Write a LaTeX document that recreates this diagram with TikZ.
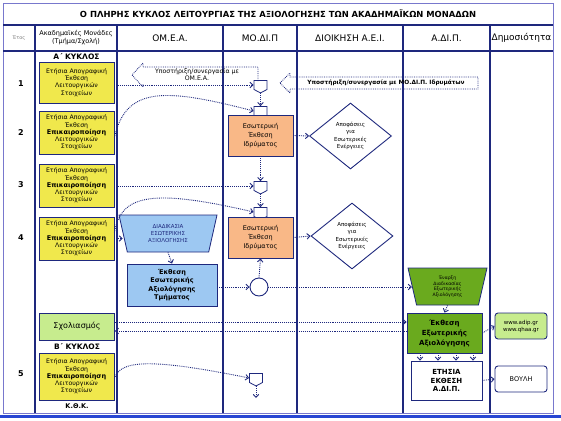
\documentclass[tikz,border=0pt]{standalone}
\usepackage{fontspec}
\setmainfont{DejaVu Sans}
\usepackage{tikz}
\usetikzlibrary{shapes.geometric,shapes.symbols,arrows.meta,positioning,calc}
\usepackage{xcolor}
\definecolor{adipnavy}{RGB}{30,40,125}
\definecolor{adipframe}{RGB}{120,120,205}
\definecolor{adipbottom}{RGB}{40,70,210}
\definecolor{adipyellow}{RGB}{240,232,76}
\definecolor{adiporange}{RGB}{249,184,135}
\definecolor{adipblue}{RGB}{157,200,242}
\definecolor{adipgreen}{RGB}{106,170,30}
\definecolor{adiplight}{RGB}{199,236,142}
\newcommand{\sizept}[2]{\fontsize{#1pt}{#2pt}\selectfont}
\newcommand{\updtext}{{\sizept{6.5}{7.2}\bfseries Επικαιροποίηση}}
\tikzset{
    lane/.style={draw=adipnavy, line width=1.2pt},
    header/.style={font=\sizept{9}{10}, text=black},
    rownum/.style={font=\sizept{8}{9}\bfseries},
    cycle/.style={font=\sizept{7.5}{9}\bfseries},
    acadbox/.style={rectangle, draw=adipnavy, fill=adipyellow, line width=0.8pt, minimum width=75pt, minimum height=43pt, inner sep=0pt, align=center, font=\sizept{6.2}{7.2}},
    instbox/.style={rectangle, draw=adipnavy, fill=adiporange, line width=0.8pt, minimum width=65pt, minimum height=41pt, inner sep=0pt, align=center, font=\sizept{6.5}{9}},
    offpage/.style={signal, signal to=south, signal pointer angle=124, draw=adipnavy, fill=white, line width=0.8pt, minimum width=13pt, minimum height=9pt, inner sep=0pt},
    decision/.style={diamond, draw=adipnavy, fill=white, line width=0.9pt, minimum width=82pt, minimum height=66pt, inner sep=0pt, align=center, font=\sizept{5.5}{7.5}},
    trapbox/.style={trapezium, shape border rotate=180, trapezium stretches body, draw=adipnavy, line width=0.8pt, inner sep=0pt, align=center},
    pubbox/.style={rectangle, rounded corners=3pt, draw=adipnavy, line width=0.9pt, minimum width=52pt, minimum height=26pt, inner sep=0pt, align=center},
    flow/.style={adipnavy, densely dotted, line width=0.9pt, -{Straight Barb[length=3pt,width=5.5pt]}},
    bigarrow/.style={adipnavy, densely dotted, line width=0.8pt},
}

\begin{document}
\begin{tikzpicture}[x=1pt,y=-1pt]
    \useasboundingbox (0,0) rectangle (561,420);

    % Table frame and lanes
    \draw[adipframe, line width=0.8pt] (3,3) rectangle (553,413);
    \draw[lane] (3,25) -- (553,25);
    \draw[lane] (3,51) -- (553,51);
    \foreach \x in {35,117,223,297,403,490} {
        \draw[lane] (\x,25) -- (\x,413);
    }
    \draw[adipbottom, line width=3pt] (0,416.5) -- (561,416.5);

    % Title and headers
    \node[font=\sizept{8.4}{10}\bfseries] (title) at (278,14) {Ο ΠΛΗΡΗΣ ΚΥΚΛΟΣ ΛΕΙΤΟΥΡΓΙΑΣ ΤΗΣ ΑΞΙΟΛΟΓΗΣΗΣ ΤΩΝ ΑΚΑΔΗΜΑΪΚΩΝ ΜΟΝΑΔΩΝ};
    \node[font=\sizept{5}{6}, text=gray] (hYear) at (19,38) {Έτος};
    \node[header, font=\sizept{6.5}{8}, align=center] (hUnits) at (76,38) {Ακαδημαϊκές Μονάδες\\(Τμήμα/Σχολή)};
    \node[header] (hOmea) at (170,38) {ΟΜ.Ε.Α.};
    \node[header] (hModip) at (260,38) {ΜΟ.ΔΙ.Π};
    \node[header] (hAdmin) at (350,38) {ΔΙΟΙΚΗΣΗ Α.Ε.Ι.};
    \node[header] (hAdip) at (446.5,38) {Α.ΔΙ.Π.};
    \node[header] (hPublic) at (521.5,38) {Δημοσιότητα};

    % Years
    \foreach \n/\y in {1/84,2/133,3/185,4/238,5/374} {
        \node[rownum] (year\n) at (21,\y) {\n};
    }

    % Academic units
    \node[cycle] (cycleA) at (76.5,57) {Α΄ ΚΥΚΛΟΣ};
    \node[acadbox, minimum height=41pt] (acad1) at (76.5,82.5) {Ετήσια Απογραφική\\Έκθεση\\Λειτουργικών\\Στοιχείων};
    \node[acadbox] (acad2) at (76.5,132.5) {Ετήσια Απογραφική\\Έκθεση\\\updtext\\Λειτουργικών\\Στοιχείων};
    \node[acadbox] (acad3) at (76.5,185.5) {Ετήσια Απογραφική\\Έκθεση\\\updtext\\Λειτουργικών\\Στοιχείων};
    \node[acadbox] (acad4) at (76.5,238.5) {Ετήσια Απογραφική\\Έκθεση\\\updtext\\Λειτουργικών\\Στοιχείων};
    \node[acadbox, fill=adiplight, minimum height=27pt, font=\sizept{8}{9}] (comments) at (77,326.5) {Σχολιασμός};
    \node[cycle] (cycleB) at (77,347) {Β΄ ΚΥΚΛΟΣ};
    \node[acadbox, minimum height=47pt] (acad5) at (76.5,376.5) {Ετήσια Απογραφική\\Έκθεση\\\updtext\\Λειτουργικών\\Στοιχείων};
    \node[font=\sizept{6.5}{8}\bfseries] (kthk) at (77,406) {Κ.Θ.Κ.};

    % OM.E.A.
    \node[trapbox, fill=adipblue, trapezium left angle=66, trapezium right angle=66, minimum width=98pt, minimum height=37pt, font=\sizept{5.5}{7.3}, text=adipnavy] (selfproc) at (168,233.5) {ΔΙΑΔΙΚΑΣΙΑ\\ΕΣΩΤΕΡΙΚΗΣ\\ΑΞΙΟΛΟΓΗΣΗΣ};
    \node[instbox, fill=adipblue, minimum width=90pt, minimum height=42pt, font=\sizept{6.5}{8.3}\bfseries] (deptreport) at (172,285) {Έκθεση\\Εσωτερικής\\Αξιολόγησης\\Τμήματος};

    % MO.DI.P
    \node[offpage] (conn1) at (260.5,85) {};
    \node[offpage] (conn2) at (260.5,111) {};
    \node[instbox] (inst1) at (260.5,135.5) {Εσωτερική\\Έκθεση\\Ιδρύματος};
    \node[offpage] (conn3) at (260.5,186) {};
    \node[offpage] (conn4) at (260.5,212) {};
    \node[instbox] (inst2) at (260.5,237.5) {Εσωτερική\\Έκθεση\\Ιδρύματος};
    \node[circle, draw=adipnavy, fill=white, line width=0.9pt, minimum size=18pt, inner sep=0pt] (merge) at (259,287) {};
    \node[offpage] (conn5) at (256,378) {};
    \coordinate (conn5end) at (256,398);

    % Administration
    \node[decision] (decide1) at (350.5,136) {Αποφάσεις\\για\\Εσωτερικές\\Ενέργειες};
    \node[decision] (decide2) at (352,236) {Αποφάσεις\\για\\Εσωτερικές\\Ενέργειες};

    % A.DI.P.
    \node[trapbox, fill=adipgreen, trapezium left angle=68, trapezium right angle=68, minimum width=79pt, minimum height=37pt, font=\sizept{4.6}{5.5}] (extstart) at (447.5,286.5) {Έναρξη\\Διαδικασίας\\Εξωτερικής\\Αξιολόγησης};
    \node[instbox, fill=adipgreen, minimum width=75pt, minimum height=40pt, font=\sizept{7}{10}\bfseries] (extreport) at (444.5,333) {Έκθεση\\Εξωτερικής\\Αξιολόγησης};
    \node[instbox, fill=white, minimum width=71pt, minimum height=39pt, font=\sizept{7}{8.5}\bfseries] (annual) at (446.5,380.5) {ΕΤΗΣΙΑ\\ΕΚΘΕΣΗ\\Α.ΔΙ.Π.};

    % Publicity
    \node[pubbox, fill=adiplight, font=\sizept{5.5}{7}] (web) at (521,326) {www.adip.gr\\www.qhaa.gr};
    \node[pubbox, fill=white, font=\sizept{6.5}{8}] (parliament) at (521,379) {ΒΟΥΛΗ};

    % Support arrows
    \draw[bigarrow] (258,81) -- (258,67) -- (143,67) -- (143,63) -- (132,75) -- (143,87) -- (143,84);
    \node[font=\sizept{6.2}{7.5}, align=center] (supportOmea) at (197,74.5) {Υποστήριξη/συνεργασία με\\ΟΜ.Ε.Α.};
    \draw[bigarrow] (280,83) -- (290,73) -- (290,77) -- (478,77) -- (478,89) -- (290,89) -- (290,93) -- cycle;
    \node[font=\sizept{5.8}{7}\bfseries] (supportModip) at (386,83) {Υποστήριξη/συνεργασία με ΜΟ.ΔΙ.Π. Ιδρυμάτων};

    % Flows
    \draw[flow] (acad1.east |- conn1.west) -- (conn1.west);
    \draw[flow] ([yshift=-5pt]acad2.east) .. controls (126,86) and (165,88) .. (conn2.west);
    \draw[flow] (acad3.east |- conn3.west) -- (conn3.west);
    \draw[flow] ([yshift=6pt]acad4.east) .. controls (121,195) and (150,188) .. (conn4.west);
    \draw[flow] (acad4.east) -- (acad4.east -| selfproc.west);
    \draw[flow] ([yshift=-2pt]acad5.east) .. controls (120,360) and (150,358) .. (conn5.west);
    \draw[flow] (conn1.south) -- (conn2.north);
    \draw[flow] (inst1.south) -- (conn3.north);
    \draw[flow] (conn3.south) -- (conn4.north);
    \draw[flow] (inst1.east) -- (decide1.west);
    \draw[flow] (inst2.east) -- (decide2.west);
    \draw[flow] (selfproc.south) -- (deptreport.north);
    \draw[flow] (deptreport.east |- merge.west) -- (merge.west);
    \draw[flow] (merge.north) -- (inst2.south);
    \draw[flow] (merge.east) -- (merge.east -| extstart.west);
    \draw[flow] (conn5.south) -- (conn5end);
    \draw[flow] (extstart.south) -- (extreport.north);
    \foreach \x in {420,438,456,473} {
        \draw[flow] (\x,0 |- extreport.south) -- (\x,0 |- annual.north);
    }
    \draw[flow] (extreport.east) -- (web.west);
    \draw[flow] (annual.east) -- (parliament.west);
    \draw[flow] ([yshift=4.5pt]comments.east) -- ([yshift=4.5pt]comments.east -| extreport.west);
    \draw[flow] ([yshift=-4.5pt]comments.east -| extreport.west) -- ([yshift=-4.5pt]comments.east);
\end{tikzpicture}
\end{document}
